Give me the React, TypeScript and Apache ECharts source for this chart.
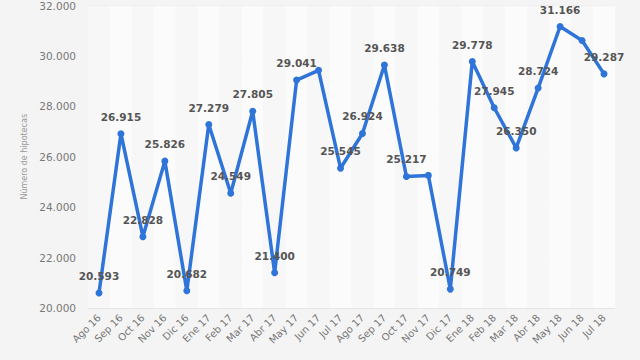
import React, { useEffect, useRef } from "react";
import * as echarts from "echarts";

const categories = [
  "Ago 16", "Sep 16", "Oct 16", "Nov 16", "Dic 16", "Ene 17", "Feb 17", "Mar 17",
  "Abr 17", "May 17", "Jun 17", "Jul 17", "Ago 17", "Sep 17", "Oct 17", "Nov 17",
  "Dic 17", "Ene 18", "Feb 18", "Mar 18", "Abr 18", "May 18", "Jun 18", "Jul 18",
];

const values = [
  20593, 26915, 22828, 25826, 20682, 27279, 24549, 27805,
  21400, 29041, 29430, 25545, 26924, 29638, 25217, 25260,
  20749, 29778, 27945, 26350, 28724, 31166, 30614, 29287,
];

// categories whose value label is not shown in the reference
const hiddenLabels = ["Jun 17", "Nov 17", "Jun 18"];

const yTicks = { min: 20000, max: 32000, interval: 2000 };

const fmt = (v: number) => String(Math.round(v)).replace(/\B(?=(\d{3})+(?!\d))/g, ".");

export default function App() {
  const ref = useRef<HTMLDivElement>(null);
  useEffect(() => {
    if (!ref.current) return;
    const chart = echarts.init(ref.current, null, { renderer: "svg" });
    chart.setOption({
      animation: false,
      backgroundColor: "#f4f4f4",
      grid: { left: 88, right: 25, top: 4, bottom: 52 },
      xAxis: {
        type: "category",
        data: categories,
        boundaryGap: true,
        axisLine: { show: false },
        axisTick: { show: false },
        axisLabel: {
          rotate: 45,
          color: "#777",
          fontSize: 10,
          fontFamily: "DejaVu Sans",
          margin: 8,
          interval: 0,
        },
        splitArea: { show: true, areaStyle: { color: ["#f7f7f7", "#fbfbfb"] } },
        splitLine: { show: false },
      },
      yAxis: {
        type: "value",
        min: yTicks.min,
        max: yTicks.max,
        interval: yTicks.interval,
        name: "Número de hipotecas",
        nameLocation: "middle",
        nameGap: 52,
        nameTextStyle: { color: "#999", fontSize: 8, fontFamily: "DejaVu Sans" },
        axisLine: { show: false },
        axisTick: { show: false },
        axisLabel: {
          color: "#777",
          fontSize: 10.5,
          fontFamily: "DejaVu Sans",
          margin: 12,
          formatter: (v: number) => fmt(v),
        },
        splitLine: { show: true, lineStyle: { color: "#e4e4e4", width: 1 } },
      },
      series: [
        {
          type: "line",
          data: values.map((v, i) => ({
            value: v,
            label: { show: !hiddenLabels.includes(categories[i]) },
          })),
          lineStyle: { color: "#2f74d8", width: 3.5 },
          itemStyle: { color: "#2f74d8" },
          symbol: "circle",
          symbolSize: 7,
          label: {
            show: true,
            position: "top",
            distance: 8,
            color: "#555",
            fontWeight: "bold",
            fontSize: 10.5,
            fontFamily: "DejaVu Sans",
            formatter: (p: any) => fmt(p.value),
          },
          z: 3,
        },
      ],
    });
    return () => chart.dispose();
  }, []);
  return (
    <div
      ref={ref}
      style={{ position: "absolute", left: 0, top: 0, width: 640, height: 360 }}
    />
  );
}
